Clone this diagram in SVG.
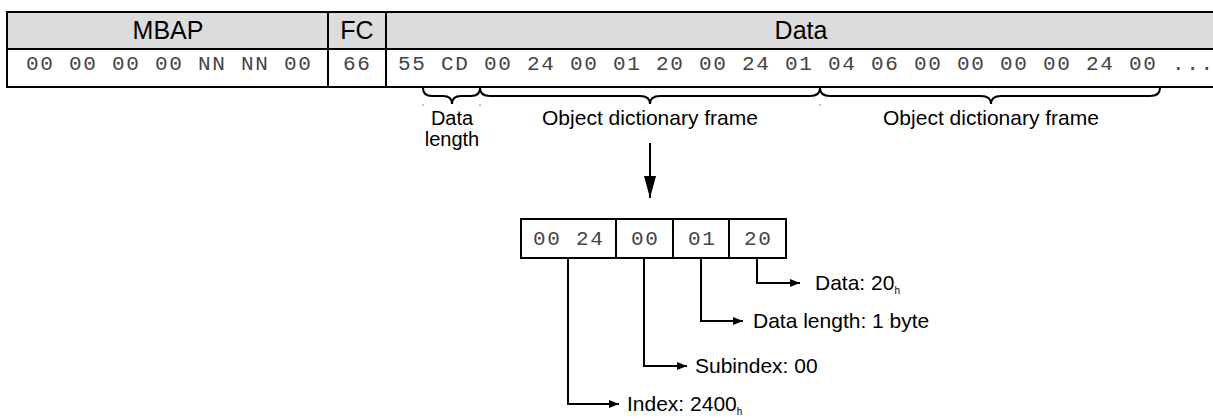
<svg xmlns="http://www.w3.org/2000/svg" width="1213" height="419" viewBox="0 0 1213 419">
<style>
.hdr{fill:#dcdcdc;stroke:#000;stroke-width:2}
.cell{fill:#fff;stroke:#000;stroke-width:2}
.ht{font-family:"Liberation Sans",Arial,sans-serif;font-size:25px;fill:#000;text-anchor:middle}
.mono{font-family:"Liberation Mono","Courier New",monospace;font-size:21px;fill:#444;letter-spacing:1.73px}
.lbl{font-family:"Liberation Sans",Arial,sans-serif;font-size:21px;fill:#000}
.lbl2{font-family:"Liberation Sans",Arial,sans-serif;font-size:20px;fill:#000;text-anchor:middle}
.sub{font-family:"Liberation Sans",Arial,sans-serif;font-size:10px;fill:#000}
.ln{fill:none;stroke:#000;stroke-width:2}
.br{fill:none;stroke:#000;stroke-width:2}
.tick{stroke:#888;stroke-width:1}
</style>
<defs>
<marker id="ah" viewBox="0 0 10 8" refX="10" refY="4" markerWidth="10" markerHeight="8" markerUnits="userSpaceOnUse" orient="auto">
<path d="M0,0 L10,4 L0,8 Z" fill="#000"/>
</marker>
<marker id="big" viewBox="0 0 12 22" refX="6" refY="22" markerWidth="12" markerHeight="22" markerUnits="userSpaceOnUse" orient="0">
<path d="M0,0 L12,0 L6,22 Z" fill="#000"/>
</marker>
</defs>
<rect width="1213" height="419" fill="#fff"/>

<g id="mbap">
<rect class="hdr" x="7" y="12" width="321" height="37"/>
<rect class="cell" x="7" y="49" width="321" height="38"/>
<text class="ht" x="168" y="39">MBAP</text>
<text class="mono" x="26" y="70">00 00 00 00 NN NN 00</text>
</g>
<g id="fc">
<rect class="hdr" x="328" y="12" width="58" height="37"/>
<rect class="cell" x="328" y="49" width="58" height="38"/>
<text class="ht" x="357" y="39">FC</text>
<text class="mono" x="343" y="70">66</text>
</g>
<g id="data">
<rect class="hdr" x="386" y="12" width="840" height="37"/>
<rect class="cell" x="386" y="49" width="840" height="38"/>
<text class="ht" x="801" y="39">Data</text>
<text class="mono" x="398" y="70">55 CD 00 24 00 01 20 00 24 01 04 06 00 00 00 00 24 00 ...</text>
</g>

<g id="braces">
<path class="br" d="M423,88 Q423,96 432,96 L443,96 Q452,96 452,104 Q452,96 461,96 L471,96 Q480,96 480,88"/>
<path class="br" d="M480,88 Q480,96 490,96 L640,96 Q650,96 650,104 Q650,96 660,96 L810,96 Q820,96 820,88"/>
<path class="br" d="M820,88 Q820,96 830,96 L981,96 Q991,96 991,104 Q991,96 1001,96 L1150,96 Q1160,96 1160,88"/>
<line class="tick" x1="423" y1="104" x2="423" y2="106"/>
<line class="tick" x1="480" y1="104" x2="480" y2="106"/>
<line class="tick" x1="820" y1="104" x2="820" y2="106"/>
</g>
<g id="lbl-datalength">
<text class="lbl2" x="452" y="125">Data</text>
<text class="lbl2" x="452" y="146">length</text>
</g>
<g id="lbl-odf1">
<text class="lbl" x="650" y="125" text-anchor="middle">Object dictionary frame</text>
</g>
<g id="lbl-odf2">
<text class="lbl" x="991" y="125" text-anchor="middle">Object dictionary frame</text>
</g>

<g id="frame">
<rect class="cell" x="521" y="219" width="95" height="39"/>
<rect class="cell" x="616" y="219" width="57" height="39"/>
<rect class="cell" x="673" y="219" width="56" height="39"/>
<rect class="cell" x="729" y="219" width="57" height="39"/>
<text class="mono" x="533" y="245">00 24</text>
<text class="mono" x="631" y="245">00</text>
<text class="mono" x="688" y="245">01</text>
<text class="mono" x="744" y="245">20</text>
</g>

<g id="connectors">
<line class="ln" x1="650" y1="143" x2="650" y2="198" marker-end="url(#big)"/>
<polyline class="ln" points="757,258 757,283 800,283" marker-end="url(#ah)"/>
<polyline class="ln" points="701,258 701,321 743,321" marker-end="url(#ah)"/>
<polyline class="ln" points="644,258 644,366 687,366" marker-end="url(#ah)"/>
<polyline class="ln" points="568,258 568,404 619,404" marker-end="url(#ah)"/>
</g>

<g id="lbl-data">
<text class="lbl" x="815" y="290">Data: 20<tspan class="sub" dy="4">h</tspan></text>
</g>
<g id="lbl-len">
<text class="lbl" x="753" y="328">Data length: 1 byte</text>
</g>
<g id="lbl-sub">
<text class="lbl" x="695" y="373">Subindex: 00</text>
</g>
<g id="lbl-index">
<text class="lbl" x="627" y="411">Index: 2400<tspan class="sub" dy="4">h</tspan></text>
</g>
</svg>
